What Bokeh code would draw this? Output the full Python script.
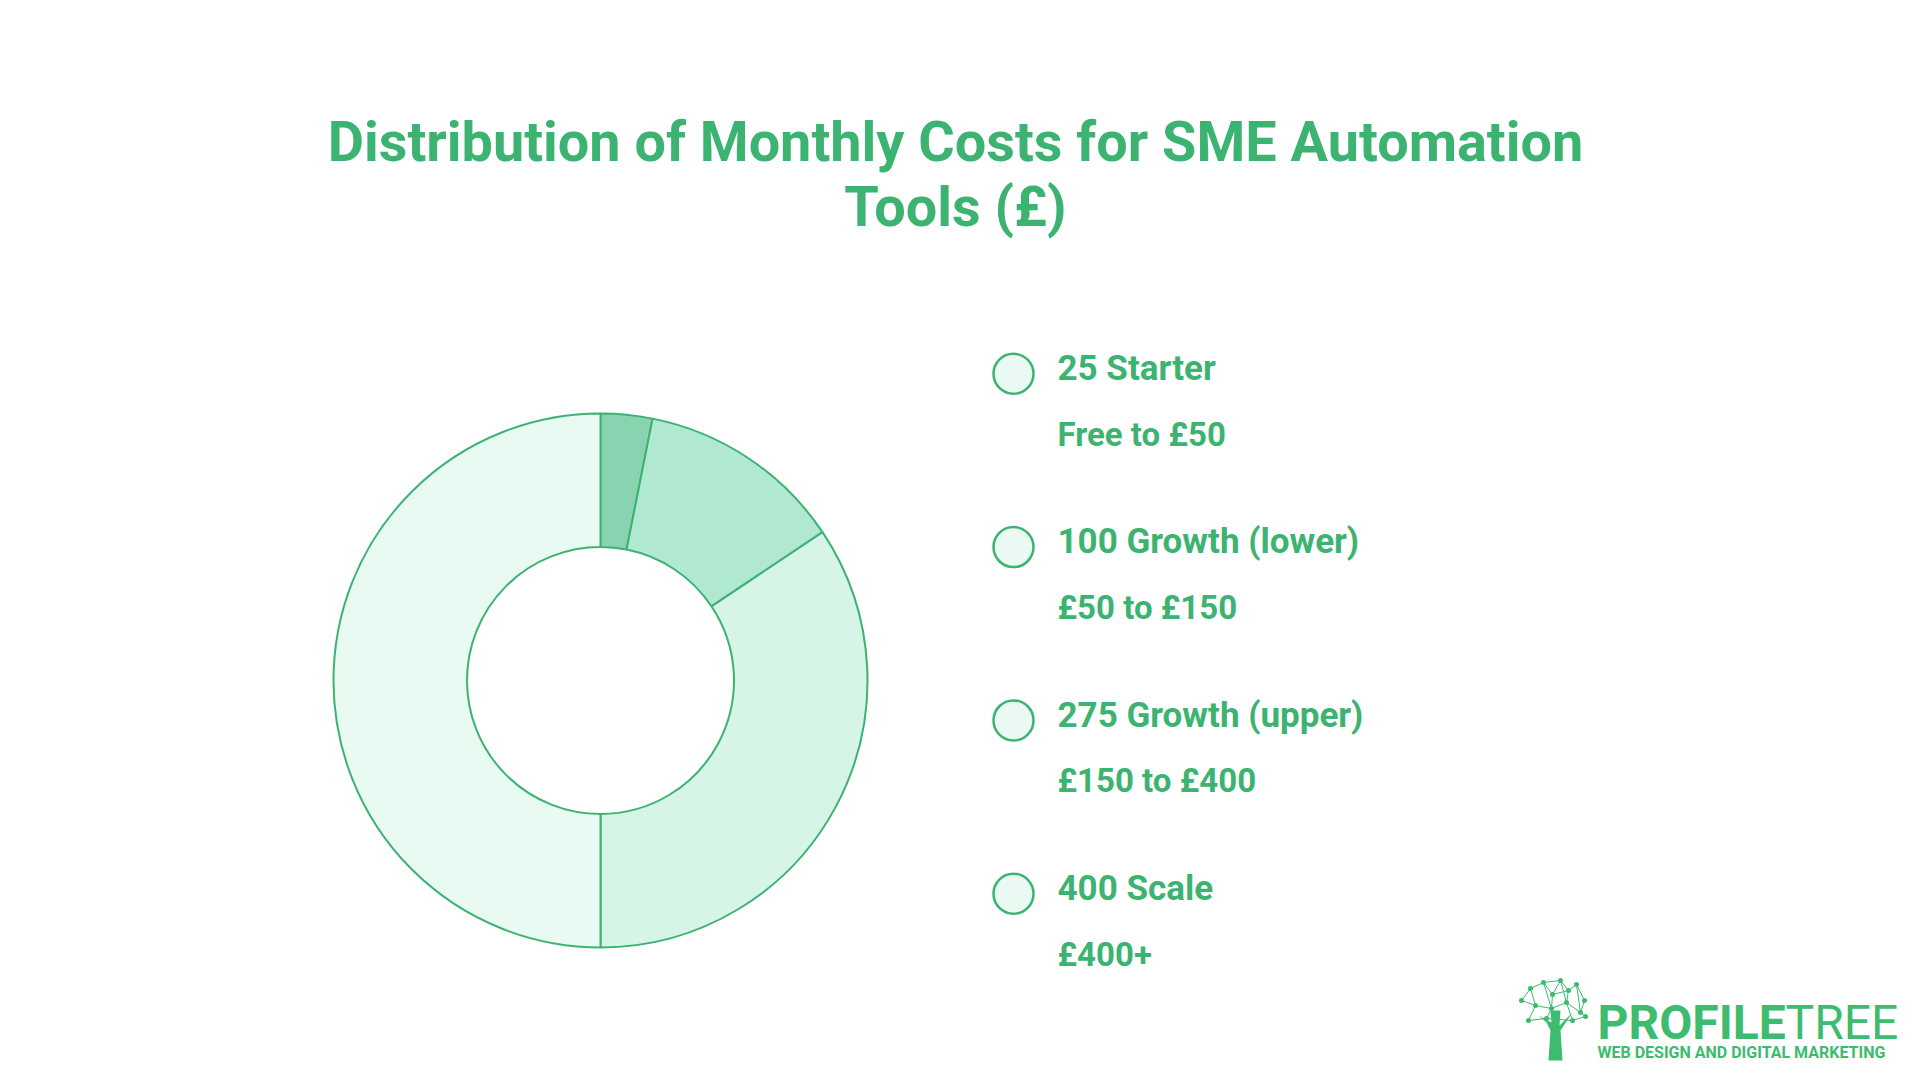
import math
from bokeh.plotting import figure
from bokeh.models import Range1d, ColumnDataSource
from bokeh.core.properties import value
from bokeh.embed import file_html
from bokeh.resources import INLINE

# ---- data ----
tiers = ["Starter", "Growth (lower)", "Growth (upper)", "Scale"]
costs = [25, 100, 275, 400]
ranges = ["Free to £50", "£50 to £150", "£150 to £400", "£400+"]
slice_colors = ["#88D4B0", "#B0E8D2", "#D6F5E7", "#E8FAF1"]
title_lines = ["Distribution of Monthly Costs for SME Automation", "Tools (£)"]

GREEN = "#3CB371"
W, H = 1904, 1064
K = 0.32  # baseline correction factor

p = figure(width=W, height=H, output_backend="svg", toolbar_location=None,
           x_range=Range1d(0, W), y_range=Range1d(0, H),
           min_border=0, background_fill_color="#FFFFFF",
           border_fill_color="#FFFFFF", outline_line_color=None)
p.axis.visible = False
p.grid.visible = False

def sy(y):  # page pixel row -> data y
    return H - y

def tb(y, fs):  # desired baseline row -> data y, with correction
    return sy(y - K * fs)

# ---- title ----
p.text(x=[955, 955], y=[tb(159, 55.8), tb(224, 55.8)], text=title_lines,
       text_font=value("Roboto"), text_font_style="bold",
       text_font_size="55.8px", text_color=GREEN,
       text_align="center", text_baseline="alphabetic")

# ---- donut ----
total = sum(costs)
starts, ends = [], []
cum = 0.0
for c in costs:
    starts.append(math.pi / 2 - 2 * math.pi * cum / total)
    cum += c
    ends.append(math.pi / 2 - 2 * math.pi * cum / total)
src = ColumnDataSource(dict(start=starts, end=ends, color=slice_colors,
                            x=[600] * 4, y=[sy(680)] * 4))
p.annular_wedge(x="x", y="y", inner_radius=133.5, outer_radius=267,
                inner_radius_units="screen", outer_radius_units="screen",
                start_angle="start", end_angle="end", direction="clock",
                fill_color="color", line_color=GREEN, line_width=2,
                source=src)

# ---- legend ----
cy = [373.3 + 173.3 * i for i in range(len(tiers))]
labels = [f"{c} {t}" for c, t in zip(costs, tiers)]
p.scatter(x=[1013] * 4, y=[sy(v) for v in cy], size=40, marker="circle",
          fill_color="#EAFAF2", line_color=GREEN, line_width=2.5)
p.text(x=[1057] * 4, y=[tb(v + 6, 35) for v in cy], text=labels,
       text_font=value("Roboto"), text_font_style="bold",
       text_font_size="35px", text_color=GREEN,
       text_align="left", text_baseline="alphabetic")
p.text(x=[1057] * 4, y=[tb(v + 71, 33) for v in cy], text=ranges,
       text_font=value("Roboto"), text_font_style="bold",
       text_font_size="33px", text_color=GREEN,
       text_align="left", text_baseline="alphabetic")

# ---- logo (decoration) ----
LG = "#3DBB6E"
nodes_x = [1521, 1530, 1543, 1552, 1560, 1568, 1576, 1584, 1535, 1551, 1566, 1580, 1528, 1546, 1572, 1585]
nodes_y = [1000, 988, 982, 994, 980, 990, 984, 1000, 1005, 1008, 1002, 1012, 1020, 1018, 1020, 1016]
edges = [(0, 1), (1, 2), (2, 3), (3, 4), (4, 5), (5, 6), (6, 7), (0, 8), (8, 9), (9, 10), (10, 11),
         (1, 8), (2, 9), (3, 9), (4, 10), (5, 10), (6, 11), (7, 11), (8, 12), (9, 13), (10, 14), (11, 15),
         (12, 13), (13, 14), (14, 15), (3, 5), (2, 4)]
p.segment(x0=[nodes_x[a] for a, b in edges], y0=[sy(nodes_y[a]) for a, b in edges],
          x1=[nodes_x[b] for a, b in edges], y1=[sy(nodes_y[b]) for a, b in edges],
          line_color=LG, line_width=1)
p.scatter(x=nodes_x, y=[sy(v) for v in nodes_y], size=5, marker="circle",
          fill_color=LG, line_color=None)
p.patch(x=[1550, 1560, 1559, 1572, 1560, 1562, 1548, 1550, 1546, 1538, 1551],
        y=[sy(v) for v in [1010, 1010, 1025, 1012, 1030, 1060, 1060, 1030, 1022, 1015, 1022]],
        fill_color=LG, line_color=None)
p.text(x=[1597], y=[tb(1037, 48)], text=["PROFILE"],
       text_font=value("Roboto"), text_font_style="bold",
       text_font_size="48px", text_color=LG, text_baseline="alphabetic")
p.text(x=[1785], y=[tb(1037, 48)], text=["TREE"],
       text_font=value("Roboto"), text_font_style="normal",
       text_font_size="48px", text_color=LG, text_baseline="alphabetic")
p.text(x=[1597], y=[tb(1057, 16)], text=["WEB DESIGN AND DIGITAL MARKETING"],
       text_font=value("Roboto"), text_font_style="bold",
       text_font_size="16px", text_color=LG, text_baseline="alphabetic")

open("out.html", "w").write(file_html(p, INLINE))
